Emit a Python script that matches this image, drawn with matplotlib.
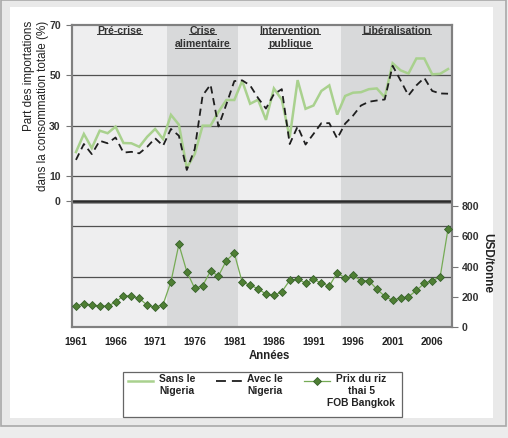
import matplotlib
matplotlib.use('Agg')
import matplotlib.pyplot as plt
from matplotlib.lines import Line2D
from matplotlib.patches import Rectangle

plt.rcParams['font.family'] = ['Liberation Sans', 'DejaVu Sans']

# ---------------- data ----------------
years = list(range(1961, 2009))
sans_nigeria = [19.5, 26.7, 21.1, 28.0, 27.0, 29.6, 23.1, 23.0, 21.6, 25.6,
                28.7, 24.7, 34.3, 30.4, 13.2, 18.7, 30.0, 30.0, 35.5, 40.2,
                40.2, 47.8, 38.7, 40.3, 32.3, 44.8, 40.3, 25.3, 48.1, 36.7,
                38.0, 43.8, 46.0, 34.4, 41.8, 43.1, 43.3, 44.5, 44.8, 41.3,
                54.8, 52.0, 50.7, 56.7, 56.7, 50.4, 50.6, 52.5]
avec_nigeria = [16.4, 22.7, 18.7, 24.0, 23.0, 25.3, 19.3, 19.6, 19.0, 21.6,
                25.0, 22.0, 28.7, 26.0, 12.4, 20.7, 42.0, 46.3, 29.7, 38.5,
                47.7, 48.0, 46.0, 41.0, 36.8, 42.5, 44.5, 22.7, 29.7, 22.5,
                26.7, 31.0, 31.0, 24.9, 30.8, 34.0, 38.0, 39.5, 40.0, 40.4,
                53.8, 48.0, 42.0, 46.0, 49.0, 43.8, 42.8, 42.7]
prix_riz = [138, 155, 145, 140, 138, 165, 207, 205, 189, 145,
            131, 149, 300, 547, 367, 256, 273, 371, 338, 440,
            489, 296, 278, 253, 218, 209, 233, 309, 320, 289,
            318, 289, 271, 360, 324, 342, 307, 307, 251, 204,
            176, 193, 200, 242, 289, 307, 331, 650]

period_bounds = [1960.5, 1972.5, 1981.5, 1994.5, 2008.5]
period_names = ["Pré-crise", "Crise\nalimentaire", "Intervention\npublique", "Libéralisation"]
x_ticks = [1961, 1966, 1971, 1976, 1981, 1986, 1991, 1996, 2001, 2006]
left_ticks = [70, 50, 30, 10, 0]
right_ticks = [0, 200, 400, 600, 800]

# ---------------- figure ----------------
W, H = 508, 438
fig = plt.figure(figsize=(W / 100, H / 100), dpi=100, facecolor='#ececec')

def fx(x):
    return x / W

def fy(y):
    return 1 - y / H

# outer frame and white panel
fig.add_artist(Rectangle((fx(0.5), fy(426)), fx(505), 426 / H, transform=fig.transFigure,
                         facecolor='#e9e9e9', edgecolor='#a9a9a9', lw=1.2, zorder=-3))
fig.add_artist(Rectangle((fx(10), fy(418)), fx(483), 411 / H, transform=fig.transFigure,
                         facecolor='white', edgecolor='none', zorder=-2))

ax = fig.add_axes([fx(72), fy(327), fx(380), (327 - 25) / H])
ax.set_xlim(1960.5, 2008.5)
ax.set_ylim(-50, 70)
ax.set_facecolor('none')

light = '#eeeeef'
dark = '#d8d9da'
for i in range(4):
    ax.axvspan(period_bounds[i], period_bounds[i + 1], color=light if i % 2 == 0 else dark,
               lw=0, zorder=0)

for g in [50, 30, 10, -10, -30]:
    ax.axhline(g, color='#505050', lw=0.9, zorder=1)
ax.axhline(-0.9, color='#8a8a8a', lw=1.3, zorder=2)
ax.axhline(0.0, color='#2b2b2b', lw=1.8, zorder=2)

ax.plot(years, sans_nigeria, color='#a9d18e', lw=1.8, zorder=4, solid_joinstyle='miter')
ax.plot(years, avec_nigeria, color='#1e1e1e', lw=1.3, dashes=(4, 2.6), zorder=5)

ax.set_yticks(left_ticks)
ax.set_yticklabels([str(v) for v in left_ticks], fontsize=7.6, fontweight='bold', color='#333333')
ax.tick_params(axis='y', direction='out', length=4, width=0.8, color='#777777', pad=4)
ax.set_xticks(x_ticks)
ax.set_xticklabels([str(v) for v in x_ticks], fontsize=7.4, fontweight='bold', color='#222222')
ax.tick_params(axis='x', length=0, pad=7)
for s in ax.spines.values():
    s.set_color('#808080')
    s.set_linewidth(1.5)

ax2 = ax.twinx()
ax2.set_ylim(0, 2000)
ax2.plot(years, prix_riz, color='#76ab55', lw=0.9, marker='D', ms=4.2,
         mfc='#4f7f34', mec='#35602a', mew=0.6, zorder=6)
ax2.set_yticks(right_ticks)
ax2.set_yticklabels([str(v) for v in right_ticks], fontsize=7.6, fontweight='bold', color='#333333')
ax2.tick_params(axis='y', direction='out', length=4, width=0.8, color='#777777', pad=3)
for s in ax2.spines.values():
    s.set_color('#808080')
    s.set_linewidth(1.5)

# period titles
period_texts = []
for i, name in enumerate(period_names):
    xc = (period_bounds[i] + period_bounds[i + 1]) / 2
    for j, line in enumerate(name.split('\n')):
        t = ax.text(xc, 67.6 - j * 5.2, line, ha='center', va='center', fontsize=7.6,
                    fontweight='bold', color='#333333', zorder=7)
        period_texts.append(t)

# axis labels
fig.text(fx(36), fy(106), "Part des importations\ndans la consommation totale (%)", rotation=90,
         ha='center', va='center', multialignment='right', fontsize=8.4, color='#222222',
         linespacing=1.15)
fig.text(fx(269), fy(356), "Années", ha='center', va='center', fontsize=8.3,
         fontweight='bold', color='#222222')
fig.text(fx(487), fy(263), "USD/tonne", rotation=-90, ha='center', va='center', fontsize=8.5,
         fontweight='bold', color='#222222')

# legend (manual layout)
fig.add_artist(Rectangle((fx(123), fy(417)), (402 - 123) / W, (417 - 372) / H,
                         transform=fig.transFigure, facecolor='white', edgecolor='#666666',
                         lw=0.9, zorder=3))
fig.add_artist(Line2D([fx(128), fx(153)], [fy(380.5), fy(380.5)], transform=fig.transFigure,
                      color='#a9d18e', lw=1.8, zorder=4))
fig.add_artist(Line2D([fx(216), fx(242)], [fy(380.5), fy(380.5)], transform=fig.transFigure,
                      color='#1e1e1e', lw=1.3, dashes=(5.5, 3.3), zorder=4))
fig.add_artist(Line2D([fx(304), fx(330)], [fy(380.5), fy(380.5)], transform=fig.transFigure,
                      color='#76ab55', lw=0.9, zorder=4))
fig.add_artist(Line2D([fx(317)], [fy(380.5)], transform=fig.transFigure, marker='D', ms=4.2,
                      mfc='#4f7f34', mec='#35602a', mew=0.6, lw=0, zorder=5))
leg_kw = dict(ha='center', va='top', multialignment='center', fontsize=7.4,
              fontweight='bold', color='#222222', linespacing=1.25, zorder=6)
fig.text(fx(177), fy(374), "Sans le\nNigeria", **leg_kw)
fig.text(fx(265), fy(374), "Avec le\nNigeria", **leg_kw)
fig.text(fx(361), fy(374), "Prix du riz\nthai 5\nFOB Bangkok", **leg_kw)

# underline the period titles
fig.canvas.draw()
renderer = fig.canvas.get_renderer()
inv = fig.transFigure.inverted()
for t in period_texts:
    bb = t.get_window_extent(renderer)
    (x0, y0), (x1, _) = inv.transform([(bb.x0, bb.y0 + 1.6), (bb.x1, bb.y0)])
    fig.add_artist(Line2D([x0, x1], [y0, y0], transform=fig.transFigure,
                          color='#333333', lw=0.7, zorder=8))

fig.savefig('out.png', dpi=100, facecolor=fig.get_facecolor())
